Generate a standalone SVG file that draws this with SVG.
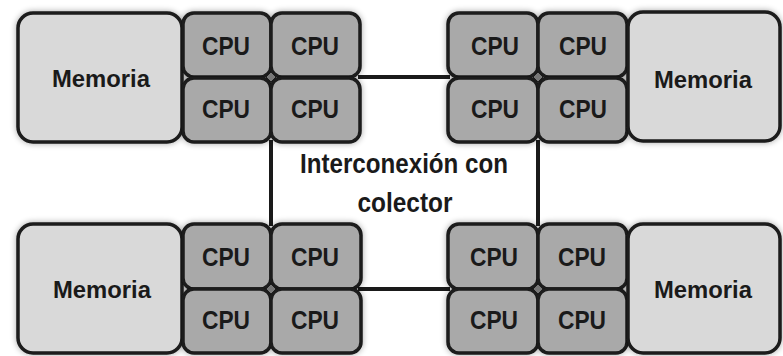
<svg xmlns="http://www.w3.org/2000/svg" width="783" height="356" viewBox="0 0 783 356">
<defs>
<filter id="sh" x="-10%" y="-10%" width="120%" height="120%">
<feGaussianBlur in="SourceAlpha" stdDeviation="3"/>
<feComponentTransfer><feFuncA type="linear" slope="0.35"/></feComponentTransfer>
<feMerge><feMergeNode/><feMergeNode in="SourceGraphic"/></feMerge>
</filter>
<style>
.mem{fill:#d9d9d9;stroke:#1a1a1a;stroke-width:3.5}
.cpu{fill:#a9a9a9;stroke:#1a1a1a;stroke-width:3.5}
.t{font-family:"Liberation Sans",Arial,sans-serif;font-weight:bold;fill:#1a1a1a;text-anchor:middle}
.tc{font-size:25px}
.tm{font-size:24px}
.ti{font-size:27px}
.ln{stroke:#1a1a1a;stroke-width:4;fill:none}
.dot{fill:#777;stroke:#1a1a1a;stroke-width:1}
</style>
</defs>
<rect width="783" height="356" fill="#ffffff"/>
<g id="connectors">
<line class="ln" x1="358" y1="77" x2="450" y2="77"/>
<line class="ln" x1="358" y1="289" x2="450" y2="289"/>
<line class="ln" x1="271" y1="140" x2="271" y2="226"/>
<line class="ln" x1="538" y1="140" x2="538" y2="226"/>
</g>
<g id="cluster-tl" filter="url(#sh)">
<rect class="mem" x="18" y="13" width="164" height="129" rx="15"/>
<rect class="cpu" x="183" y="13" width="88" height="64" rx="11"/>
<rect class="cpu" x="271" y="13" width="89" height="64" rx="11"/>
<rect class="cpu" x="183" y="78" width="88" height="64" rx="11"/>
<rect class="cpu" x="271" y="78" width="89" height="64" rx="11"/>
<path class="dot" d="M271 72 l5 5 l-5 5 l-5 -5z"/>
</g>
<g id="cluster-tr" filter="url(#sh)">
<rect class="cpu" x="448" y="13" width="90" height="64" rx="11"/>
<rect class="cpu" x="538" y="13" width="89" height="64" rx="11"/>
<rect class="cpu" x="448" y="78" width="90" height="64" rx="11"/>
<rect class="cpu" x="538" y="78" width="89" height="64" rx="11"/>
<rect class="mem" x="628" y="12" width="152" height="129" rx="15"/>
<path class="dot" d="M538 72 l5 5 l-5 5 l-5 -5z"/>
</g>
<g id="cluster-bl" filter="url(#sh)">
<rect class="mem" x="18" y="224" width="164" height="129" rx="15"/>
<rect class="cpu" x="183" y="224" width="88" height="65" rx="11"/>
<rect class="cpu" x="271" y="224" width="90" height="65" rx="11"/>
<rect class="cpu" x="183" y="289" width="88" height="64" rx="11"/>
<rect class="cpu" x="271" y="289" width="90" height="64" rx="11"/>
<path class="dot" d="M271 284 l5 5 l-5 5 l-5 -5z"/>
</g>
<g id="cluster-br" filter="url(#sh)">
<rect class="cpu" x="448" y="224" width="90" height="65" rx="11"/>
<rect class="cpu" x="538" y="224" width="89" height="65" rx="11"/>
<rect class="cpu" x="448" y="289" width="90" height="64" rx="11"/>
<rect class="cpu" x="538" y="289" width="89" height="64" rx="11"/>
<rect class="mem" x="628" y="224" width="152" height="129" rx="15"/>
<path class="dot" d="M538 284 l5 5 l-5 5 l-5 -5z"/>
</g>
<g id="labels">
<text class="t tm" x="101" y="87" textLength="98" lengthAdjust="spacingAndGlyphs">Memoria</text>
<text class="t tm" x="703" y="88" textLength="98" lengthAdjust="spacingAndGlyphs">Memoria</text>
<text class="t tm" x="102" y="298" textLength="98" lengthAdjust="spacingAndGlyphs">Memoria</text>
<text class="t tm" x="703" y="298" textLength="98" lengthAdjust="spacingAndGlyphs">Memoria</text>
<text class="t tc" x="226" y="55" textLength="48" lengthAdjust="spacingAndGlyphs">CPU</text>
<text class="t tc" x="315" y="55" textLength="48" lengthAdjust="spacingAndGlyphs">CPU</text>
<text class="t tc" x="226" y="118" textLength="48" lengthAdjust="spacingAndGlyphs">CPU</text>
<text class="t tc" x="315" y="118" textLength="48" lengthAdjust="spacingAndGlyphs">CPU</text>
<text class="t tc" x="495" y="55" textLength="48" lengthAdjust="spacingAndGlyphs">CPU</text>
<text class="t tc" x="583" y="55" textLength="48" lengthAdjust="spacingAndGlyphs">CPU</text>
<text class="t tc" x="495" y="118" textLength="48" lengthAdjust="spacingAndGlyphs">CPU</text>
<text class="t tc" x="583" y="118" textLength="48" lengthAdjust="spacingAndGlyphs">CPU</text>
<text class="t tc" x="226" y="266" textLength="48" lengthAdjust="spacingAndGlyphs">CPU</text>
<text class="t tc" x="315" y="266" textLength="48" lengthAdjust="spacingAndGlyphs">CPU</text>
<text class="t tc" x="226" y="329" textLength="48" lengthAdjust="spacingAndGlyphs">CPU</text>
<text class="t tc" x="315" y="329" textLength="48" lengthAdjust="spacingAndGlyphs">CPU</text>
<text class="t tc" x="494" y="266" textLength="48" lengthAdjust="spacingAndGlyphs">CPU</text>
<text class="t tc" x="582" y="266" textLength="48" lengthAdjust="spacingAndGlyphs">CPU</text>
<text class="t tc" x="494" y="329" textLength="48" lengthAdjust="spacingAndGlyphs">CPU</text>
<text class="t tc" x="582" y="329" textLength="48" lengthAdjust="spacingAndGlyphs">CPU</text>
<text class="t ti" x="404" y="173" textLength="208" lengthAdjust="spacingAndGlyphs">Interconexión con</text>
<text class="t ti" x="405" y="212" textLength="95" lengthAdjust="spacingAndGlyphs">colector</text>
</g>
</svg>
